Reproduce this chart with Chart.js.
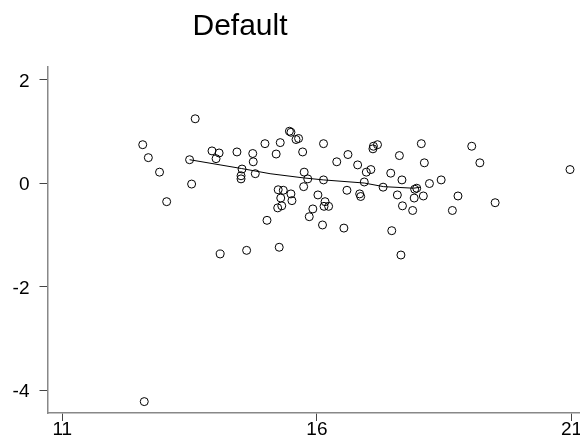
<!DOCTYPE html>
<html>
<head>
<meta charset="utf-8">
<title>Default</title>
<script src="https://cdn.jsdelivr.net/npm/chart.js@4"></script>
<style>
    html, body { margin: 0; padding: 0; background: #fff; overflow: hidden; }
    #area { position: relative; width: 580px; height: 444px; overflow: hidden; }
    #titulo {
        position: absolute; left: 140px; top: 10px; width: 200px; text-align: center;
        font-family: "Liberation Sans", Arial, sans-serif; font-size: 30px; line-height: 30px; color: #000;
    }
    #grafico { position: absolute; left: 0; top: 0; }
</style>
</head>
<body>
<div id="area">
    <canvas id="grafico" width="610" height="444"></canvas>
    <div id="titulo">Default</div>
</div>
<script>
// --- Dados ---
const pontosX = [
    13.61, 12.58, 12.69, 12.91, 13.50, 13.54, 13.05, 13.94, 14.08, 14.02,
    14.43, 14.74, 14.75, 14.98, 15.20, 15.28, 14.53, 14.51, 14.51, 14.79,
    15.02, 14.10, 14.62, 15.24, 15.29, 15.23, 15.26, 15.46, 15.49, 15.59,
    15.64, 15.72, 16.13, 15.75, 15.82, 15.74, 16.13, 15.34, 15.49, 15.51,
    15.31, 16.02, 16.16, 15.92, 16.14, 16.23, 15.85, 16.11, 16.53, 16.39,
    16.61, 16.80, 16.97, 17.06, 16.93, 16.59, 16.84, 16.86, 17.11, 17.19,
    17.10, 17.62, 17.45, 17.67, 17.30, 17.58, 17.68, 17.88, 17.92, 17.96,
    17.91, 17.47, 17.65, 18.05, 18.11, 19.04, 19.20, 20.97, 18.44, 18.21,
    18.09, 18.77, 18.66, 19.50, 12.61
];
const pontosY = [
    1.24, 0.74, 0.49, 0.21, 0.45, -0.02, -0.36, 0.62, 0.58, 0.47,
    0.60, 0.57, 0.41, 0.76, 0.56, 0.78, 0.27, 0.14, 0.08, 0.18,
    -0.72, -1.37, -1.30, -0.13, -0.29, -0.48, -1.24, 1.00, 0.98, 0.84,
    0.86, 0.60, 0.76, 0.21, 0.08, -0.07, 0.06, -0.14, -0.21, -0.34,
    -0.44, -0.23, -0.36, -0.50, -0.45, -0.45, -0.65, -0.81, -0.87, 0.41,
    0.55, 0.35, 0.21, 0.26, 0.02, -0.14, -0.21, -0.26, 0.71, 0.74,
    0.66, 0.53, 0.19, 0.06, -0.08, -0.23, -0.44, -0.53, -0.12, -0.10,
    -0.29, -0.92, -1.39, 0.76, 0.39, 0.71, 0.39, 0.26, 0.06, -0.01,
    -0.25, -0.25, -0.53, -0.38, -4.22
];

// curva suavizada (lowess)
const curvaX = [13.50, 14.52, 15.08, 15.73, 16.13, 16.93, 17.31, 17.90, 18.03];
const curvaY = [0.45, 0.28, 0.18, 0.10, 0.06, 0.00, -0.07, -0.10, -0.08];

const ticksX = [11, 16, 21];
const ticksY = [-4, -2, 0, 2];

document.addEventListener('DOMContentLoaded', () => {
    const ctx = document.getElementById('grafico').getContext('2d');

    const pontos = pontosX.map((x, i) => ({ x: x, y: pontosY[i] }));
    const curva = curvaX.map((x, i) => ({ x: x, y: curvaY[i] }));

    const fonteEixo = { family: '"Liberation Sans", Arial, sans-serif', size: 19 };

    new Chart(ctx, {
        type: 'scatter',
        data: {
            datasets: [
                {
                    label: 'pontos',
                    data: pontos,
                    pointStyle: 'circle',
                    pointRadius: 4,
                    pointBorderWidth: 1,
                    borderColor: '#000',
                    backgroundColor: 'rgba(0,0,0,0)'
                },
                {
                    label: 'curva',
                    type: 'line',
                    data: curva,
                    showLine: true,
                    pointRadius: 0,
                    borderColor: '#000',
                    borderWidth: 1,
                    fill: false
                }
            ]
        },
        options: {
            responsive: false,
            animation: false,
            layout: { padding: { top: 67, right: 13, bottom: 0, left: 0 } },
            plugins: {
                legend: { display: false },
                tooltip: { enabled: false }
            },
            scales: {
                x: {
                    type: 'linear',
                    min: 10.71,
                    max: 21.5,
                    afterBuildTicks: scale => { scale.ticks = ticksX.map(v => ({ value: v })); },
                    afterFit: scale => { scale.height = 31; },
                    grid: { drawOnChartArea: false, drawTicks: true, tickLength: 8, color: '#444' },
                    border: { display: true, color: '#888', width: 1.5 },
                    ticks: { color: '#000', font: fonteEixo, padding: -3, maxRotation: 0 }
                },
                y: {
                    type: 'linear',
                    min: -4.44,
                    max: 2.24,
                    afterBuildTicks: scale => { scale.ticks = ticksY.map(v => ({ value: v })); },
                    afterFit: scale => { scale.width = 47.5; },
                    grid: { drawOnChartArea: false, drawTicks: true, tickLength: 8, color: '#444' },
                    border: { display: true, color: '#888', width: 1.5 },
                    ticks: { color: '#000', font: fonteEixo, padding: 10, labelOffset: 2 }
                }
            }
        }
    });
});
</script>
</body>
</html>
